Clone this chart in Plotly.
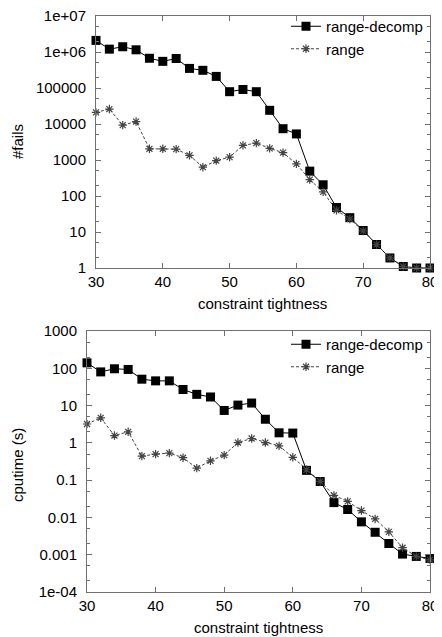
import plotly.graph_objects as go

# constraint tightness (x axis, shared by both panels)
tightness = [30, 32, 34, 36, 38, 40, 42, 44, 46, 48, 50, 52, 54,
             56, 58, 60, 62, 64, 66, 68, 70, 72, 74, 76, 78, 80]

# number of fails
fails_decomp = [2.1e6, 1.2e6, 1.4e6, 1.15e6, 6.7e5, 5.5e5, 6.6e5, 3.5e5, 3.1e5,
                2.1e5, 7.9e4, 9.1e4, 7.9e4, 2.4e4, 7.4e3, 5.3e3, 490, 205, 48,
                25, 11, 4.5, 1.9, 1.1, 1.0, 1.0]
fails_range = [2.1e4, 2.6e4, 9.3e3, 1.17e4, 2.05e3, 2.05e3, 2.0e3, 1.35e3, 630,
               960, 1.2e3, 2.55e3, 2.95e3, 2.1e3, 1.6e3, 780, 285, 130, 40,
               23, 10.7, 4.5, 1.9, 1.1, 1.0, 1.0]

# cpu time in seconds
cpu_decomp = [140, 80, 97, 93, 51, 46, 46, 27, 20, 17, 7.4, 10.3, 11.7, 4.3,
              1.86, 1.83, 0.183, 0.092, 0.025, 0.0163, 0.0076, 0.004, 0.002,
              0.00104, 0.0009, 0.00079]
cpu_range = [3.2, 4.7, 1.57, 1.98, 0.44, 0.50, 0.53, 0.40, 0.21, 0.33, 0.47,
             1.02, 1.31, 1.02, 0.83, 0.41, 0.19, 0.093, 0.039, 0.027, 0.0153,
             0.0091, 0.0041, 0.00154, 0.0009, 0.00073]

# tick labels
x_ticks = [30, 40, 50, 60, 70, 80]
fails_tickvals = [1, 10, 100, 1000, 10000, 100000, 1e6, 1e7]
fails_ticktext = ["1", "10", "100", "1000", "10000", "100000", "1e+06", "1e+07"]
cpu_tickvals = [1e-4, 1e-3, 1e-2, 0.1, 1, 10, 100, 1000]
cpu_ticktext = ["1e-04", "0.001", "0.01", "0.1", "1", "10", "100", "1000"]

W, H = 442, 637
OFF = 8  # page body margin, the figure gets drawn 8px right/down

def fx(px):
    # page pixel -> paper x
    return (px - OFF) / W

def fy(py):
    # page pixel -> paper y
    return 1 - (py - OFF) / H

font = dict(family="Liberation Sans, Arial, sans-serif", size=15, color="#000000")

fig = go.Figure()

def add_pair(y_decomp, y_range, xa, ya, legend):
    fig.add_trace(go.Scatter(
        x=tightness, y=y_decomp, name="range-decomp", mode="lines+markers",
        line=dict(color="#000000", width=1),
        marker=dict(symbol="square", size=9, color="#000000"),
        xaxis=xa, yaxis=ya, legend=legend, cliponaxis=False,
    ))
    fig.add_trace(go.Scatter(
        x=tightness, y=y_range, name="range", mode="lines+markers",
        line=dict(color="#444444", width=1, dash="3px,2px"),
        marker=dict(symbol="asterisk-open", size=7,
                    line=dict(color="#222222", width=1.2)),
        xaxis=xa, yaxis=ya, legend=legend, cliponaxis=False,
    ))

add_pair(fails_decomp, fails_range, "x", "y", "legend")
add_pair(cpu_decomp, cpu_range, "x2", "y2", "legend2")

axis_style = dict(
    showline=True, linecolor="#707070", linewidth=1, mirror="ticks",
    ticks="inside", ticklen=5, tickcolor="#707070", showgrid=False,
    zeroline=False, tickfont=font, automargin=False,
    ticklabeloverflow="allow",
)
minor_ticks = dict(ticks="inside", ticklen=3, tickcolor="#707070")

def label(text, x, y, angle=0):
    return dict(text=text, x=fx(x), y=fy(y), xref="paper", yref="paper",
                xanchor="center", yanchor="middle", textangle=angle,
                showarrow=False, font=font)

fig.update_layout(
    width=W, height=H, margin=dict(l=0, r=0, t=0, b=0, pad=0),
    paper_bgcolor="white", plot_bgcolor="white", font=font,
    xaxis=dict(domain=[fx(96), fx(430)], anchor="y", range=[30, 80],
               tickvals=x_ticks, ticklabelstandoff=0, **axis_style),
    yaxis=dict(domain=[fy(268), fy(16)], anchor="x", type="log",
               range=[0, 7], tickvals=fails_tickvals, ticktext=fails_ticktext,
               minor=minor_ticks, ticklabelstandoff=6, **axis_style),
    xaxis2=dict(domain=[fx(87), fx(430)], anchor="y2", range=[30, 80],
                tickvals=x_ticks, ticklabelstandoff=0, **axis_style),
    yaxis2=dict(domain=[fy(592), fy(331)], anchor="x2", type="log",
                range=[-4, 3], tickvals=cpu_tickvals, ticktext=cpu_ticktext,
                minor=minor_ticks, ticklabelstandoff=6, **axis_style),
    legend=dict(x=fx(428), xanchor="right", y=fy(10), yanchor="top",
                bgcolor="rgba(0,0,0,0)", font=font, tracegroupgap=0,
                itemwidth=30),
    legend2=dict(x=fx(428), xanchor="right", y=fy(328), yanchor="top",
                 bgcolor="rgba(0,0,0,0)", font=font, tracegroupgap=0,
                 itemwidth=30),
    annotations=[
        label("#fails", 17, 142, -90),
        label("constraint tightness", 263, 304),
        label("cputime (s)", 17, 465, -90),
        label("constraint tightness", 258, 627),
    ],
)

fig.write_html("out.html")
